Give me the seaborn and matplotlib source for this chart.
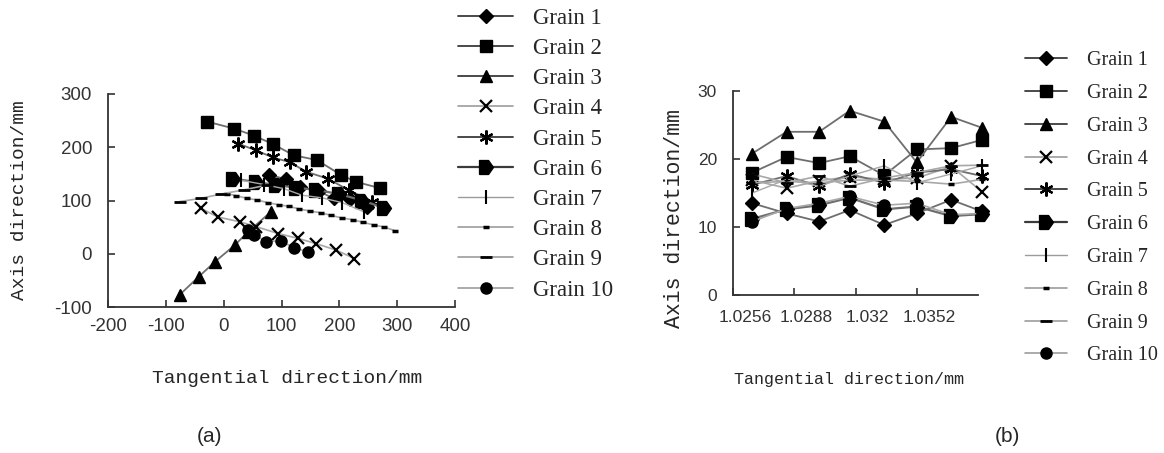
import matplotlib
matplotlib.use("Agg")
from matplotlib import pyplot as plt
from matplotlib.lines import Line2D
from matplotlib.transforms import ScaledTranslation
import pandas as pd
import seaborn as sns

grains = ['Grain %d' % i for i in range(1, 11)]

# ---- (a) tangential (x) / axis (y) positions, mm
a1_x = [79, 108, 132, 165, 190, 218, 247]
a1_y = [148, 140, 126, 117, 104, 102, 88]
a2_x = [-28, 18, 52, 85, 121, 161, 203, 229, 271]
a2_y = [248, 235, 222, 206, 185, 176, 148, 135, 123]
a3_x = [-76, -43, -15, 19, 42, 82]
a3_y = [-77, -43, -15, 16, 41, 79]
a4_x = [-39, -10, 28, 56, 94, 128, 160, 194, 226]
a4_y = [85, 69, 60, 51, 38, 29, 19, 7, -9]
a5_x = [25, 56, 85, 114, 143, 180, 217, 257]
a5_y = [207, 194, 181, 172, 154, 141, 119, 98]
a6_x = [16, 56, 91, 125, 160, 200, 240, 277]
a6_y = [141, 135, 129, 124, 120, 112, 100, 86]
a7_x = [30, 70, 105, 135, 170, 205, 242]
a7_y = [138, 130, 122, 110, 105, 96, 79]
a8_x = [5, 22, 40, 58, 76, 95, 113, 131, 150, 168, 186, 205, 223, 241, 260, 278, 297]
a8_y = [113, 109, 104, 101, 96, 92, 89, 84, 80, 77, 72, 67, 64, 59, 54, 50, 43]
a9_x = [-76, -40, -5, 35, 75]
a9_y = [98, 104, 112, 120, 129]
a10_x = [42, 52, 74, 99, 122, 145]
a10_y = [45, 36, 23, 24, 11, 4]

# ---- (b) same quantities, zoomed window
b_x = [1.0266, 1.0284, 1.0301, 1.0317, 1.0335, 1.0352, 1.0370, 1.0386]
b1_y = [13.5, 12.0, 10.8, 12.5, 10.3, 12.0, 14.0, 12.3]
b2_y = [18.0, 20.3, 19.4, 20.4, 17.6, 21.4, 21.6, 22.8]
b3_y = [20.8, 24.0, 24.0, 27.1, 25.5, 19.5, 26.2, 24.6]
b4_y = [16.9, 15.7, 16.8, 17.4, 17.0, 17.2, 18.9, 15.2]
b5_y = [16.2, 17.5, 16.0, 17.8, 16.5, 18.0, 18.5, 17.5]
b6_y = [11.2, 12.6, 13.2, 14.3, 12.6, 13.0, 11.6, 11.9]
b7_y = [15.0, 17.0, 16.0, 17.5, 19.0, 16.5, 17.8, 19.0]
b8_y = [16.5, 16.7, 16.5, 16.9, 16.9, 16.7, 16.3, 17.0]
b9_y = [17.8, 16.5, 17.5, 16.0, 17.2, 18.0, 19.0, 19.1]
b10_y = [10.8, 12.7, 13.5, 14.5, 13.2, 13.5, 11.8, 12.0]

a_xs = [a1_x, a2_x, a3_x, a4_x, a5_x, a6_x, a7_x, a8_x, a9_x, a10_x]
a_ys = [a1_y, a2_y, a3_y, a4_y, a5_y, a6_y, a7_y, a8_y, a9_y, a10_y]
b_ys = [b1_y, b2_y, b3_y, b4_y, b5_y, b6_y, b7_y, b8_y, b9_y, b10_y]

df_a = pd.concat([pd.DataFrame({'grain': g, 'x': xs, 'y': ys})
                  for g, xs, ys in zip(grains, a_xs, a_ys)], ignore_index=True)
df_b = pd.concat([pd.DataFrame({'grain': g, 'x': b_x, 'y': ys})
                  for g, ys in zip(grains, b_ys)], ignore_index=True)

sns.set_style('ticks')
plt.rcParams['font.family'] = ['Liberation Sans', 'DejaVu Sans']
plt.rcParams['axes.unicode_minus'] = False

dark, grey = '#3a3a3a', '#9c9c9c'
pent = [(-1, -1), (0.3, -1), (1, 0), (0.3, 1), (-1, 1), (-1, -1)]
styles = {
    'Grain 1': dict(marker='D', markersize=7, color=dark, lw=1.3),
    'Grain 2': dict(marker='s', markersize=8, color=dark, lw=1.3),
    'Grain 3': dict(marker='^', markersize=9, color=dark, lw=1.3),
    'Grain 4': dict(marker='x', markersize=9, markeredgewidth=1.6, color=grey, lw=1.2),
    'Grain 5': dict(marker=(6, 2, 0), markersize=10, markeredgewidth=1.6, color=dark, lw=1.3),
    'Grain 6': dict(marker=pent, markersize=10, color=dark, lw=1.6),
    'Grain 7': dict(marker='|', markersize=10, markeredgewidth=1.5, color=grey, lw=1.0),
    'Grain 8': dict(marker='_', markersize=5, markeredgewidth=2.5, color=grey, lw=1.2),
    'Grain 9': dict(marker='_', markersize=9, markeredgewidth=2.0, color=grey, lw=1.2),
    'Grain 10': dict(marker='o', markersize=8, color=grey, lw=1.2),
}
# connecting lines inside the plots are lighter than in the legend
plot_line = {dark: '#6e6e6e', grey: '#a8a8a8'}

fig = plt.figure(figsize=(11.64, 4.53), dpi=100)
ax_a = fig.add_axes([108 / 1164, 1 - 307 / 453, 347 / 1164, 213 / 453])
ax_b = fig.add_axes([733 / 1164, 1 - 295 / 453, 245 / 1164, 204 / 453])


def draw(ax, df):
    for g in grains:
        st = dict(styles[g])
        st.setdefault('markeredgewidth', 1.0)
        st['color'] = plot_line[st['color']]
        sns.lineplot(data=df[df['grain'] == g], x='x', y='y', ax=ax,
                     sort=False, estimator=None, legend=False,
                     markerfacecolor='black', markeredgecolor='black',
                     clip_on=False, **st)


draw(ax_a, df_a)
draw(ax_b, df_b)

handles = []
for g in grains:
    st = dict(styles[g])
    st.setdefault('markeredgewidth', 1.0)
    handles.append(Line2D([], [], markerfacecolor='black', markeredgecolor='black', **st))

for ax in (ax_a, ax_b):
    sns.despine(ax=ax)
    for s in ('left', 'bottom'):
        ax.spines[s].set_color('#333333')
        ax.spines[s].set_linewidth(1.3)

# (a)
ax_a.set_xlim(-200, 400)
ax_a.set_ylim(-100, 300)
ax_a.set_xticks(range(-200, 401, 100))
ax_a.set_yticks(range(-100, 301, 100))
ax_a.tick_params(direction='in', length=5, width=1.2, labelsize=13.5, colors='#333333')
ax_a.tick_params(axis='x', pad=8)
ax_a.tick_params(axis='y', pad=11.5)
ax_a.set_xlabel('Tangential direction/mm', family='Liberation Mono', fontsize=14)
ax_a.set_ylabel('Axis direction/mm', family='Liberation Mono', fontsize=14)
ax_a.xaxis.set_label_coords(0.516, -0.296)
ax_a.yaxis.set_label_coords(-0.23, 0.5)

ax_a.legend(handles, grains, loc='upper left', bbox_to_anchor=(458 / 1164, 0.983),
            bbox_transform=fig.transFigure, frameon=False, borderpad=0, borderaxespad=0,
            handlelength=2.4, handletextpad=0.87, labelspacing=0.4,
            prop={'family': 'Liberation Serif', 'size': 16.5})

# (b)
ax_b.set_xlim(1.0256, 1.0384)
ax_b.set_ylim(0, 30)
ax_b.set_xticks([1.0256, 1.0288, 1.032, 1.0352])
ax_b.set_xticklabels(['1.0256', '1.0288', '1.032', '1.0352'])
ax_b.set_yticks([0, 10, 20, 30])
ax_b.tick_params(direction='in', length=5, width=1.2, labelsize=12.5, colors='#333333')
ax_b.tick_params(axis='x', pad=10.5)
ax_b.tick_params(axis='y', pad=11.5)
ax_b.set_xlabel('Tangential direction/mm', family='Liberation Mono', fontsize=12)
ax_b.set_ylabel('Axis direction/mm', family='Liberation Mono', fontsize=15.5)
ax_b.xaxis.set_label_coords(0.473, -0.377)
ax_b.yaxis.set_label_coords(-0.196, 0.377)

ax_b.legend(handles, grains, loc='upper left', bbox_to_anchor=(1025 / 1164, 0.887),
            bbox_transform=fig.transFigure, frameon=False, borderpad=0, borderaxespad=0,
            handlelength=2.1, handletextpad=1.0, labelspacing=0.68,
            prop={'family': 'Liberation Serif', 'size': 14.5})

for lab in ax_b.get_xticklabels():
    lab.set_transform(lab.get_transform() + ScaledTranslation(0.12, 0, fig.dpi_scale_trans))

fig.text(209 / 1164, 1 - 437 / 453, '(a)', ha='center', va='center', fontsize=15)
fig.text(1007 / 1164, 1 - 437 / 453, '(b)', ha='center', va='center', fontsize=15)

fig.savefig('out.png', dpi=100)
